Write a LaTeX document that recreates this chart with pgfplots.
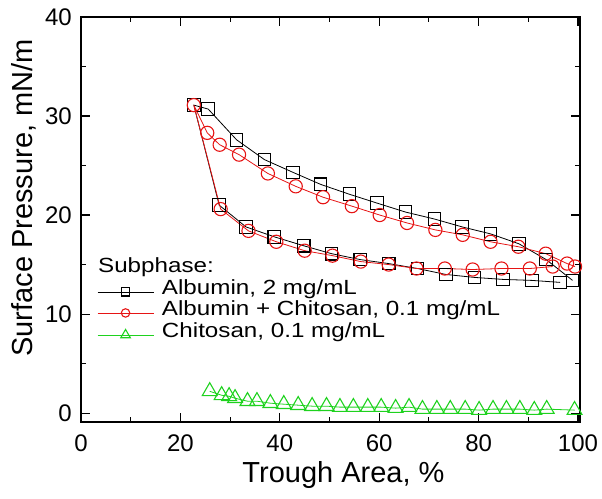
\documentclass[border=0pt]{standalone}
\usepackage{fontspec}
\setmainfont{Liberation Sans}
\newfontfamily\legendfont[FakeStretch=1.18]{Liberation Sans}
\usepackage{pgfplots}
\pgfplotsset{compat=1.18}
\definecolor{myred}{RGB}{230,20,20}
\definecolor{mygreen}{RGB}{30,210,30}
\begin{document}
\begin{tikzpicture}
\useasboundingbox (-81pt,-76pt) rectangle (521pt,422pt);
\begin{axis}[
  at={(0pt,0pt)}, anchor=south west,
  scale only axis, width=499pt, height=405pt,
  xmin=0, xmax=100.4, ymin=-0.9, ymax=40,
  xtick={0,20,...,100}, ytick={0,10,...,40},
  minor xtick={10,30,...,90}, minor ytick={5,15,...,35},
  tick align=inside, major tick length=9pt, minor tick length=5pt,
  axis line style={line width=1.2pt},
  every tick/.style={line width=1.1pt, black},
  /pgf/number format/assume math mode=true,
  tick label style={font=\fontsize{24}{28}\selectfont},
  xticklabel style={anchor=north, inner sep=0pt, yshift=-13pt},
  yticklabel style={anchor=east, inner sep=0pt, xshift=-9pt},
  xlabel={Trough Area, \%},
  ylabel={Surface Pressure, mN/m},
  label style={font=\fontsize{29}{34}\selectfont, inner sep=0pt},
  xlabel style={at={(axis description cs:0.526,-0.1506)}, anchor=base},
  ylabel style={at={(axis description cs:-0.0962,0.553)}, anchor=base, rotate=0},
  legend image code/.code={\draw[mark repeat=2, mark phase=2, #1, every mark/.append style={scale=0.64}] plot coordinates {(0pt,0pt) (28pt,0pt) (56pt,0pt)};},
  legend cell align=left,
  legend style={draw=none, fill=none, at={(rel axis cs:0.032,0.3327)}, anchor=north west,
    inner sep=0pt, row sep=12pt,
    font=\legendfont\fontsize{20.5}{24}\selectfont,
    nodes={inner sep=0pt, text depth=0.15em, text height=0.75em},
    /tikz/every odd column/.append style={column sep=8pt}},
]
\addplot[black, line width=0.8pt, mark=square, mark size=6.3pt, mark options={fill=white, line width=1.1pt, solid}] coordinates {
(98.9,13.4)(93.6,15.5)(88.1,17.1)(82.4,18.1)(76.7,18.8)(71.1,19.6)(65.3,20.3)(59.6,21.2)(54.0,22.1)(48.2,23.1)(42.7,24.3)(36.9,25.6)(31.3,27.6)(25.6,30.7)(22.7,31.1)
(27.8,21.0)(33.2,18.8)(38.9,17.8)(44.8,16.9)(50.4,16.1)(56.2,15.5)(61.9,15.1)(67.7,14.6)(73.4,14.0)(79.2,13.7)(84.9,13.5)(90.7,13.4)(96.4,13.2)
};
\addlegendentry{Albumin, 2 mg/mL}
\addplot[myred, line width=0.8pt, mark=o, mark size=6.6pt, mark options={fill=white, line width=1.1pt, solid}] coordinates {
(99.4,14.8)(97.8,15.1)(93.5,16.1)(88.0,16.8)(82.4,17.3)(76.8,18.0)(71.3,18.5)(65.6,19.2)(60.1,20.0)(54.5,20.9)(48.7,21.8)(43.2,22.9)(37.6,24.2)(31.8,26.1)(27.9,27.1)(25.4,28.3)(22.7,31.1)
(28.1,20.6)(33.7,18.4)(39.3,17.3)(45.0,16.4)(50.6,15.9)(56.3,15.3)(61.9,15.0)(67.5,14.6)(73.2,14.6)(78.8,14.5)(84.6,14.6)(90.3,14.6)(94.9,14.8)
};
\addlegendentry{Albumin + Chitosan, 0.1 mg/mL}
\addplot[mygreen, line width=0.8pt, mark=triangle, mark size=8.6pt, mark options={fill=white, line width=1.1pt, solid}] coordinates {
(25.9,2.2)(28.3,1.8)(29.8,1.7)(31.0,1.5)(33.5,1.2)(35.4,1.2)(38.1,1.0)(40.8,0.9)(43.7,0.8)(46.5,0.7)(49.4,0.7)(52.1,0.6)(54.8,0.6)(57.7,0.6)(60.4,0.6)(63.3,0.5)(66.0,0.6)(68.7,0.4)(71.6,0.4)(74.3,0.4)(77.3,0.4)(80.1,0.3)(82.9,0.4)(85.6,0.4)(88.3,0.4)(91.2,0.3)(93.7,0.4)(99.3,0.3)
};
\addlegendentry{Chitosan, 0.1 mg/mL}
\node[anchor=base west, inner sep=0pt, font=\legendfont\fontsize{20.5}{24}\selectfont] at (rel axis cs:0.034,0.370) {Subphase:};
\end{axis}
\end{tikzpicture}
\end{document}
